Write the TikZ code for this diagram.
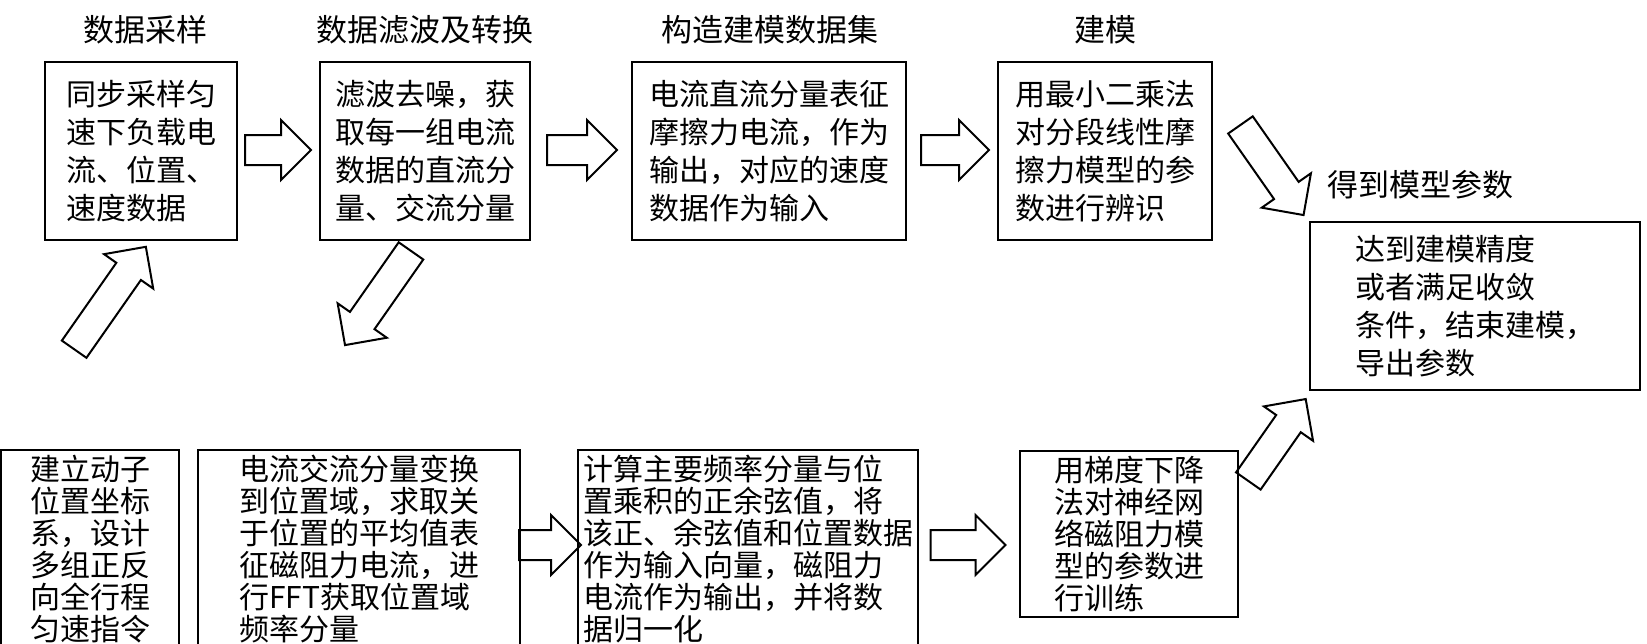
\documentclass[tikz,border=0pt]{standalone}
\usepackage{fontspec}
\setmainfont{Noto Sans CJK SC}
\begin{document}
\begin{tikzpicture}[x=0.5pt,y=-0.5pt,
  box/.style={draw,line width=1pt,align=left,inner sep=0pt,font=\fontsize{15pt}{19pt}\selectfont},
  tight/.style={font=\fontsize{15pt}{16pt}\selectfont},
  head/.style={font=\fontsize{15.5pt}{19pt}\selectfont},
  pics/barrow/.style={code={
    \draw[line width=1pt] (-#1/2,-15)--(#1/2-30,-15)--(#1/2-30,-30)--(#1/2,0)--(#1/2-30,30)--(#1/2-30,15)--(-#1/2,15)--cycle;}}]
\useasboundingbox (0,0) rectangle (1647,643);
\node[head] (h1) at (145,30) {数据采样};
\node[head] (h2) at (425,30) {数据滤波及转换};
\node[head] (h3) at (770,30) {构造建模数据集};
\node[head] (h4) at (1105,30) {建模};
\node[head] (h5) at (1420,185) {得到模型参数};
\node[box,minimum width=96pt,minimum height=89pt] (b1) at (141,151) {同步采样匀\\速下负载电\\流、位置、\\速度数据};
\node[box,minimum width=105pt,minimum height=89pt] (b2) at (425,151) {滤波去噪，获\\取每一组电流\\数据的直流分\\量、交流分量};
\node[box,minimum width=137pt,minimum height=89pt] (b3) at (769,151) {电流直流分量表征\\摩擦力电流，作为\\输出，对应的速度\\数据作为输入};
\node[box,minimum width=107pt,minimum height=89pt] (b4) at (1105,151) {用最小二乘法\\对分段线性摩\\擦力模型的参\\数进行辨识};
\node[box,minimum width=165pt,minimum height=84pt] (b5) at (1475,306) {达到建模精度\\或者满足收敛\\条件，结束建模，\\导出参数};
\node[box,tight,minimum width=89pt,minimum height=99pt] (b6) at (90,549) {建立动子\\位置坐标\\系，设计\\多组正反\\向全行程\\匀速指令};
\node[box,tight,minimum width=161pt,minimum height=99pt] (b7) at (359,549) {电流交流分量变换\\到位置域，求取关\\于位置的平均值表\\征磁阻力电流，进\\行FFT获取位置域\\频率分量};
\node[box,tight,minimum width=170pt,minimum height=99pt] (b8) at (748,549) {计算主要频率分量与位\\置乘积的正余弦值，将\\该正、余弦值和位置数据\\作为输入向量，磁阻力\\电流作为输出，并将数\\据归一化};
\node[box,tight,minimum width=109pt,minimum height=83pt] (b9) at (1129,534) {用梯度下降\\法对神经网\\络磁阻力模\\型的参数进\\行训练};
\pic at (278,150) {barrow=66};
\pic at (582,150) {barrow=70};
\pic at (955,150) {barrow=68};
\pic[rotate=-55] at (1272,170) {barrow=110};
\pic[rotate=55] at (110,298) {barrow=125};
\pic[rotate=-125] at (378,298) {barrow=115};
\pic at (550,545) {barrow=62};
\pic at (968,545) {barrow=75};
\pic[rotate=55] at (1277,440) {barrow=100};
\end{tikzpicture}
\end{document}
